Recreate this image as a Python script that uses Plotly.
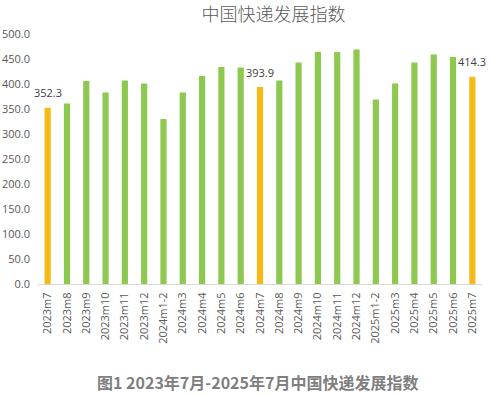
import plotly.graph_objects as go

categories = ["2023m7", "2023m8", "2023m9", "2023m10", "2023m11", "2023m12",
              "2024m1-2", "2024m3", "2024m4", "2024m5", "2024m6", "2024m7",
              "2024m8", "2024m9", "2024m10", "2024m11", "2024m12",
              "2025m1-2", "2025m3", "2025m4", "2025m5", "2025m6", "2025m7"]
values = [352.3, 361, 406, 383, 407, 401,
          330, 383, 416, 434, 433, 393.9,
          407, 443, 464, 464, 469,
          369, 401, 443, 459, 454, 414.3]
highlight = ["2023m7", "2024m7", "2025m7"]
y_ticks = [0, 50, 100, 150, 200, 250, 300, 350, 400, 450, 500]

GREEN = "#8DC851"
ORANGE = "#F7B916"
colors = [ORANGE if c in highlight else GREEN for c in categories]

fig = go.Figure()
fig.add_trace(go.Bar(x=categories, y=values, marker=dict(color=colors, line=dict(width=0)),
                     hoverinfo="x+y"))

for c, v in zip(categories, values):
    if c in highlight:
        fig.add_annotation(x=c, y=v, text=f"{v:.1f}", showarrow=False, yshift=15,
                           font=dict(size=11, color="#404040", family="Open Sans"))

fig.update_layout(
    width=490, height=395,
    margin=dict(l=38, r=8, t=34, b=111, autoexpand=False),
    paper_bgcolor="white", plot_bgcolor="white",
    bargap=0.68,
    showlegend=False,
    font=dict(family="Open Sans", size=11, color="#595959"),
    title=dict(text="中国快递发展指数", x=0.558, xanchor="center", y=0.963, yanchor="middle",
               font=dict(family="Noto Sans CJK SC", size=18, color="#595959", weight=300)),
)
fig.update_yaxes(range=[0, 500], tickvals=y_ticks, ticktext=[f"{t:.1f}" for t in y_ticks],
                 showgrid=False, zeroline=False, showline=False, ticks="", automargin=False,
                 ticklabelstandoff=7, tickfont=dict(size=11, color="#595959"))
fig.update_xaxes(range=[-0.5, len(categories) - 0.5], tickangle=-90, showgrid=False,
                 showline=True, linecolor="#D9D9D9", linewidth=1,
                 ticks="", automargin=False, ticklabelstandoff=3,
                 tickfont=dict(size=11, color="#595959"))

fig.add_annotation(text="<b>图1 2023年7月-2025年7月中国快递发展指数</b>", xref="paper", yref="paper",
                   x=0.495, y=0, yshift=-98, xanchor="center", yanchor="middle", showarrow=False,
                   font=dict(family="Noto Sans CJK SC", size=16, color="#7F7F7F"))

fig.write_html("out.html", config={"displayModeBar": False},
               post_script="document.body.style.margin='0';")
